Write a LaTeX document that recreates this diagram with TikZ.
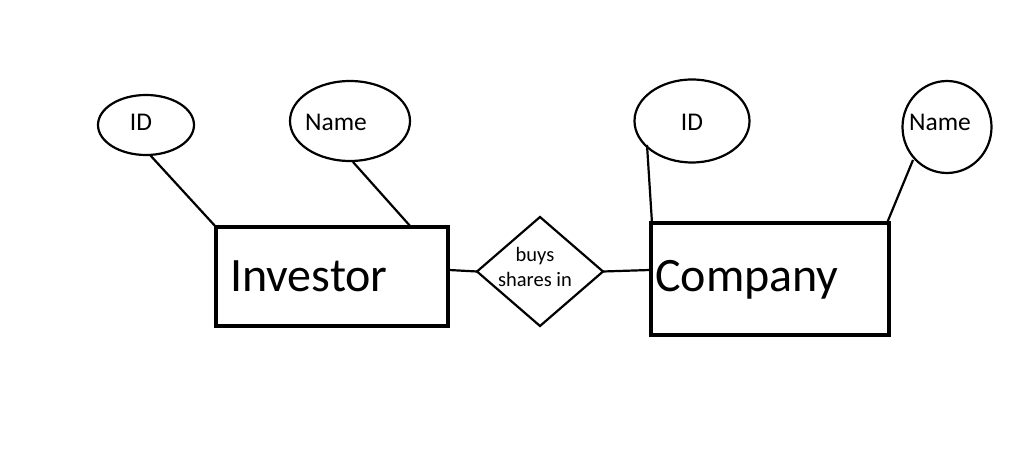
\documentclass[tikz,border=0pt]{standalone}
\usepackage{fontspec}
\setmainfont{Carlito}
\usetikzlibrary{shapes.geometric}
\begin{document}
\begin{tikzpicture}[x=1pt,y=1pt,
  attr/.style={draw,ellipse,line width=2.2pt,inner sep=0pt},
  ent/.style={draw,rectangle,line width=3.8pt,inner sep=0pt},
  conn/.style={line width=2.2pt},
  lbl/.style={inner sep=0pt,font=\fontsize{25.5}{28}\selectfont},
  big/.style={inner sep=0pt,anchor=west,font=\fontsize{48}{50}\selectfont}]
\useasboundingbox (0,0) rectangle (1027,457);
% attributes
\node[attr,minimum width=96pt,minimum height=60pt] (idL) at (146,332) {};
\node[attr,minimum width=120pt,minimum height=80pt] (nameL) at (350,336) {};
\node[attr,minimum width=115pt,minimum height=83pt] (idR) at (692,336) {};
\node[attr,minimum width=89pt,minimum height=92pt] (nameR) at (947,330) {};
\node[lbl] (tidL) at (141,335) {ID};
\node[lbl] (tnameL) at (336,335) {Name};
\node[lbl] (tidR) at (692,335) {ID};
\node[lbl] (tnameR) at (940,335) {Name};
% entities
\node[ent,minimum width=232pt,minimum height=99pt] (inv) at (332,180.5) {};
\node[ent,minimum width=238pt,minimum height=112pt] (comp) at (770,178) {};
\node[big] (tinv) at (230,181) {Investor};
\node[big] (tcomp) at (655,177) {Company};
% relationship
\coordinate (dT) at (540,240);
\coordinate (dB) at (540,131);
\coordinate (dL) at (477,185.5);
\coordinate (dR) at (603,185.5);
\draw[conn,line join=miter] (dT) -- (dR) -- (dB) -- (dL) -- cycle;
\node[inner sep=0pt,align=center,font=\fontsize{20.5}{25}\selectfont] (trel) at (535,190) {buys\\shares in};
% connectors
\coordinate (a1) at (150,302);
\coordinate (a2) at (216,230);
\draw[conn] (a1) -- (a2);
\coordinate (b1) at (353,295);
\coordinate (b2) at (411,230);
\draw[conn] (b1) -- (b2);
\coordinate (c1) at (647,312);
\coordinate (c2) at (652,234);
\draw[conn] (c1) -- (c2);
\coordinate (e1) at (913,297);
\coordinate (e2) at (887,234);
\draw[conn] (e1) -- (e2);
\coordinate (f1) at (449,187);
\draw[conn] (f1) -- (dL);
\coordinate (g1) at (650,187);
\draw[conn] (dR) -- (g1);
\end{tikzpicture}
\end{document}
